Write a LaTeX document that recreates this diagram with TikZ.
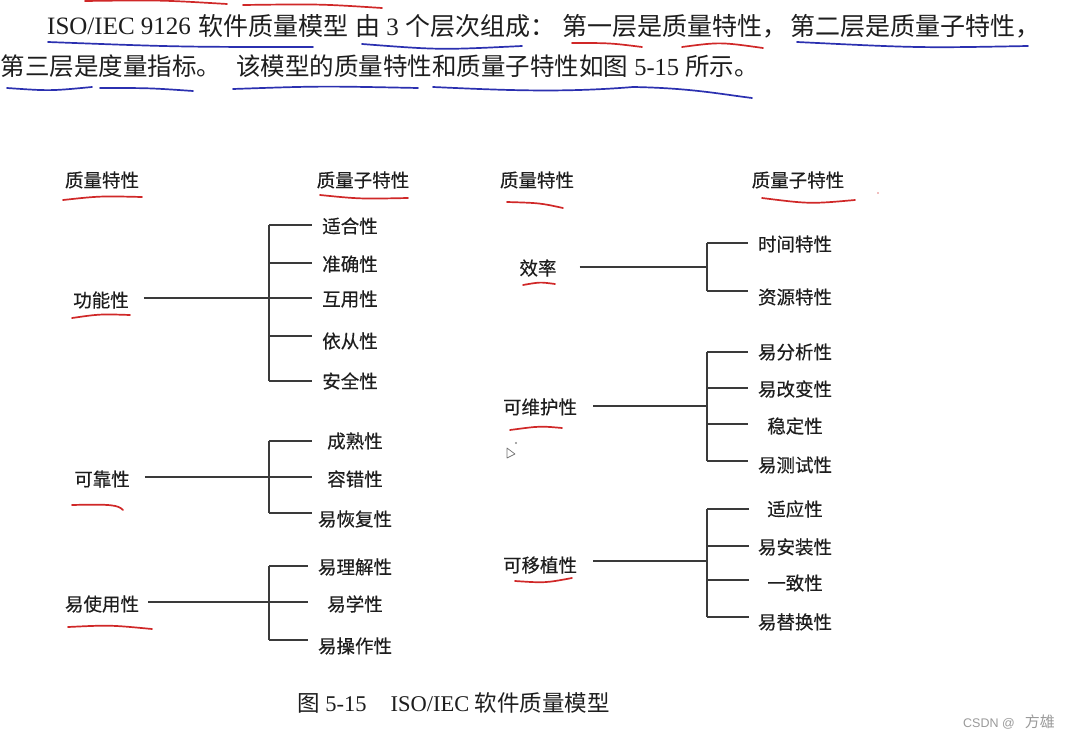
\documentclass[tikz,border=0pt]{standalone}
\usepackage{fontspec}
\setmainfont{Liberation Serif}
\newfontfamily\cjk{Noto Sans CJK SC}
\newfontfamily\cjkd{Noto Sans CJK SC}[FakeBold=0.35]
\newfontfamily\wmfont{Liberation Sans}
\definecolor{ink}{HTML}{1E1E1E}
\definecolor{lineink}{HTML}{3A3A3A}
\definecolor{penred}{HTML}{D02828}
\definecolor{penblue}{HTML}{2B30B0}
\definecolor{wmgray}{HTML}{9A9A9A}
\begin{document}
\begin{tikzpicture}[x=1pt,y=-1pt,
  para/.style={inner sep=0pt, anchor=west, text=ink, font=\fontsize{25}{30}\selectfont},
  paratwo/.style={inner sep=0pt, anchor=west, text=ink, font=\fontsize{24.5}{29}\selectfont},
  captext/.style={inner sep=0pt, anchor=west, text=ink, font=\fontsize{22.5}{27}\selectfont},
  lbl/.style={inner sep=0pt, text=ink, font=\cjkd\fontsize{18.5}{22}\selectfont},
  conn/.style={draw=lineink, line width=1.4pt},
  redpen/.style={draw=penred, line width=1.7pt, line cap=round},
  bluepen/.style={draw=penblue, line width=1.7pt, line cap=round},
  wm/.style={inner sep=0pt, anchor=west, text=wmgray}
]
\useasboundingbox[fill=white] (0,0) rectangle (1078,736);

% ---------- paragraph ----------
\node[para] (p1a) at (47,26) {ISO/IEC 9126};
\node[para] (p1b) at (198,26) {\cjk 软件质量模型};
\node[para] (p2) at (355,26) {{\cjk 由} 3 {\cjk 个层次组成：}};
\node[para] (p3) at (562,26) {\cjk 第一层是质量特性，};
\node[para] (p4) at (790,26) {\cjk 第二层是质量子特性，};
\node[paratwo] (p5) at (0.5,66) {\cjk 第三层是度量指标。};
\node[paratwo] (p6) at (236,66) {{\cjk 该模型的质量特性和质量子特性如图} 5-15 {\cjk 所示。}};

% handwritten marks on paragraph
\draw[redpen] (85,1) .. controls (160,0) .. (227,4);
\draw[redpen] (243,5) .. controls (320,4) .. (382,8);
\draw[bluepen] (48,42) .. controls (180,47) .. (313,47);
\draw[bluepen] (362,44) .. controls (440,50) .. (522,46);
\draw[redpen] (572,43) .. controls (610,43) .. (642,47);
\draw[redpen] (682,47) .. controls (720,42) .. (763,48);
\draw[bluepen] (797,42) .. controls (920,48) .. (1028,46);
\draw[bluepen] (7,88) .. controls (50,91) .. (92,87);
\draw[bluepen] (100,88) .. controls (150,88) .. (193,91);
\draw[bluepen] (233,89) .. controls (320,86) .. (418,88);
\draw[bluepen] (433,87) .. controls (500,90) and (560,93) .. (633,87) .. controls (690,88) and (720,94) .. (752,98);

% ---------- headers ----------
\node[lbl] (hl1) at (102,180) {质量特性};
\node[lbl] (hl2) at (363,180) {质量子特性};
\node[lbl] (hr1) at (537,180) {质量特性};
\node[lbl] (hr2) at (798,180) {质量子特性};
\draw[redpen] (63,200) .. controls (100,196) .. (142,197);
\draw[redpen] (320,195) .. controls (360,199) .. (408,198);
\draw[redpen] (507,202) .. controls (540,203) .. (563,208);
\draw[redpen] (762,198) .. controls (810,204) .. (855,200);
\fill[penred!60] (878,193) circle (0.8);

% ---------- tree: 功能性 ----------
\node[lbl] (f) at (101,300) {功能性};
\draw[redpen] (72,318) .. controls (100,314) .. (130,315);
\coordinate (fj) at (269,298);
\coordinate (fe) at (312,298);
\node[lbl] (f1) at (350,226) {适合性};
\node[lbl] (f2) at (350,264) {准确性};
\node[lbl] (f3) at (350,299) {互用性};
\node[lbl] (f4) at (350,341) {依从性};
\node[lbl] (f5) at (350,381) {安全性};
\draw[conn] ([xshift=15pt]f.east |- fj) -- (fe);
\draw[conn] (fj |- 0,225) -- (fj |- 0,381);
\foreach \yy in {225,263,336,381} \draw[conn] (fj |- 0,\yy) -- (fe |- 0,\yy);

% ---------- tree: 可靠性 ----------
\node[lbl] (r) at (102,479) {可靠性};
\draw[redpen] (72,505) .. controls (112,504) and (118,505) .. (123,510);
\coordinate (rj) at (269,477);
\coordinate (re) at (312,477);
\node[lbl] (r1) at (355,441) {成熟性};
\node[lbl] (r2) at (355,479) {容错性};
\node[lbl] (r3) at (355,519) {易恢复性};
\draw[conn] ([xshift=15pt]r.east |- rj) -- (re);
\draw[conn] (rj |- 0,441) -- (rj |- 0,513);
\foreach \yy in {441,513} \draw[conn] (rj |- 0,\yy) -- (re |- 0,\yy);

% ---------- tree: 易使用性 ----------
\node[lbl] (u) at (102,604) {易使用性};
\draw[redpen] (68,627) .. controls (110,625) .. (152,629);
\coordinate (uj) at (269,602);
\coordinate (ue) at (308,602);
\node[lbl] (u1) at (355,567) {易理解性};
\node[lbl] (u2) at (355,604) {易学性};
\node[lbl] (u3) at (355,646) {易操作性};
\draw[conn] ([xshift=9pt]u.east |- uj) -- (ue);
\draw[conn] (uj |- 0,566) -- (uj |- 0,640);
\foreach \yy in {566,640} \draw[conn] (uj |- 0,\yy) -- (ue |- 0,\yy);

% ---------- tree: 效率 ----------
\node[lbl] (e) at (538,268) {效率};
\draw[redpen] (523,285) .. controls (540,282) .. (555,284);
\coordinate (ej) at (707,267);
\coordinate (ee) at (748,267);
\node[lbl] (e1) at (795,244) {时间特性};
\node[lbl] (e2) at (795,297) {资源特性};
\draw[conn] ([xshift=23pt]e.east |- ej) -- (ej);
\draw[conn] (ej |- 0,243) -- (ej |- 0,291);
\foreach \yy in {243,291} \draw[conn] (ej |- 0,\yy) -- (ee |- 0,\yy);

% ---------- tree: 可维护性 ----------
\node[lbl] (m) at (540,407) {可维护性};
\draw[redpen] (510,430) .. controls (540,426) .. (562,428);
\coordinate (mj) at (707,406);
\coordinate (me) at (748,406);
\node[lbl] (m1) at (795,352) {易分析性};
\node[lbl] (m2) at (795,389) {易改变性};
\node[lbl] (m3) at (795,426) {稳定性};
\node[lbl] (m4) at (795,465) {易测试性};
\draw[conn] ([xshift=16pt]m.east |- mj) -- (mj);
\draw[conn] (mj |- 0,352) -- (mj |- 0,461);
\foreach \yy in {352,388,424,461} \draw[conn] (mj |- 0,\yy) -- (me |- 0,\yy);
\fill[black!45] (516,443) circle (1.1);
\draw[black!55, line width=0.7pt, line join=round] (507,448) -- (515,454) -- (507,458) -- cycle;

% ---------- tree: 可移植性 ----------
\node[lbl] (pt) at (540,565) {可移植性};
\draw[redpen] (515,581) .. controls (545,583) .. (572,578);
\coordinate (pj) at (707,561);
\coordinate (pe) at (749,561);
\node[lbl] (pt1) at (795,509) {适应性};
\node[lbl] (pt2) at (795,547) {易安装性};
\node[lbl] (pt3) at (795,583) {一致性};
\node[lbl] (pt4) at (795,622) {易替换性};
\draw[conn] ([xshift=16pt]pt.east |- pj) -- (pj);
\draw[conn] (pj |- 0,509) -- (pj |- 0,617);
\foreach \yy in {509,546,580,617} \draw[conn] (pj |- 0,\yy) -- (pe |- 0,\yy);

% ---------- caption & watermark ----------
\node[captext] (caption) at (297,703) {{\cjk 图} 5-15\hspace{24pt}ISO/IEC {\cjk 软件质量模型}};
\node[wm] (mark) at (963,722) {{\wmfont\fontsize{12.5}{15}\selectfont CSDN @}\hspace{10pt}{\cjk\fontsize{15}{18}\selectfont 方雄}};
\end{tikzpicture}
\end{document}
